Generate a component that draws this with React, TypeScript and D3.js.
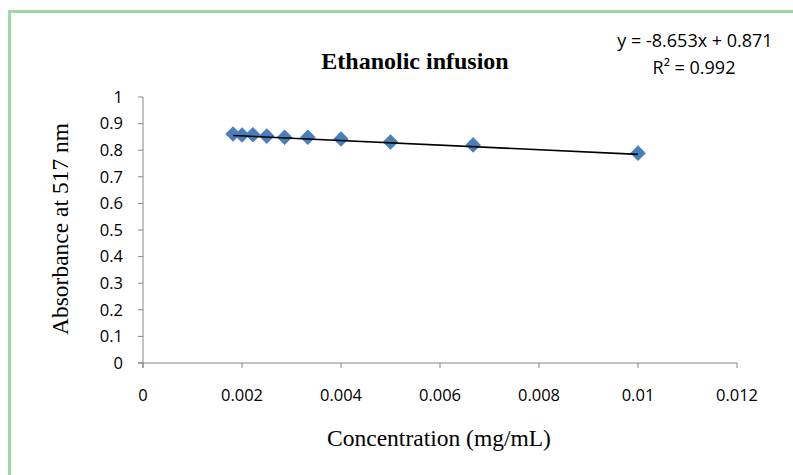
import { scaleLinear, line, symbol, symbolSquare } from 'd3'

// concentration (mg/mL) and absorbance
const conc = [0.00182, 0.002, 0.00222, 0.0025, 0.00286, 0.00333, 0.004, 0.005, 0.00667, 0.01]
const absorbance = [0.861, 0.857, 0.858, 0.853, 0.849, 0.849, 0.842, 0.831, 0.82, 0.789]

const xTicks = [0, 0.002, 0.004, 0.006, 0.008, 0.01, 0.012]
const yTicks = [0, 0.1, 0.2, 0.3, 0.4, 0.5, 0.6, 0.7, 0.8, 0.9, 1]

const slope = -8.653
const intercept = 0.871

const width = 793
const height = 475
const left = 143
const right = 737
const top = 97
const bottom = 363

const x = scaleLinear().domain([0, 0.012]).range([left, right])
const y = scaleLinear().domain([0, 1]).range([bottom, top])

const tickFont = "'Open Sans', 'Liberation Sans', sans-serif"
const serif = "'Liberation Serif', 'Times New Roman', serif"

// excel's diamond marker: a square turned 45 degrees
const diamond = symbol().type(symbolSquare).size(100)

function App() {
  const xMin = Math.min(...conc)
  const xMax = Math.max(...conc)
  const trend = line<number>()
    .x((d) => x(d))
    .y((d) => y(slope * d + intercept))([xMin, xMax])

  return (
    <svg
      width={width}
      height={height}
      style={{ position: 'absolute', left: 0, top: 0, background: '#fff' }}
    >
      <rect x={9.5} y={11.5} width={800} height={500} fill="#fff" stroke="#9ed8a4" strokeWidth={3} />

      <text x={415} y={69} textAnchor="middle" fontFamily={serif} fontWeight="bold" fontSize={24}>
        Ethanolic infusion
      </text>

      <text x={695} y={47} textAnchor="middle" fontFamily={tickFont} fontSize={18}>
        y = -8.653x + 0.871
      </text>
      <text x={694} y={74} textAnchor="middle" fontFamily={tickFont} fontSize={18}>
        R² = 0.992
      </text>

      {/* axes */}
      <line x1={left} x2={left} y1={top} y2={bottom + 5} stroke="#868686" />
      <line x1={left - 5} x2={right} y1={bottom} y2={bottom} stroke="#868686" />
      {yTicks.map((t) => (
        <g key={'y' + t}>
          <line x1={left - 5} x2={left} y1={y(t)} y2={y(t)} stroke="#868686" />
          <text
            x={left - 20}
            y={y(t)}
            dy="0.35em"
            textAnchor="end"
            fontFamily={tickFont}
            fontSize={16.5}
          >
            {t}
          </text>
        </g>
      ))}
      {xTicks.map((t) => (
        <g key={'x' + t}>
          <line x1={x(t)} x2={x(t)} y1={bottom} y2={bottom + 5} stroke="#868686" />
          <text x={x(t)} y={401} textAnchor="middle" fontFamily={tickFont} fontSize={16.5}>
            {t}
          </text>
        </g>
      ))}

      <text x={439} y={446} textAnchor="middle" fontFamily={serif} fontSize={23.5}>
        Concentration (mg/mL)
      </text>
      <text
        transform="translate(68,229) rotate(-90)"
        textAnchor="middle"
        fontFamily={serif}
        fontSize={23.5}
      >
        Absorbance at 517 nm
      </text>

      {conc.map((c, i) => (
        <path
          key={c}
          d={diamond() ?? ''}
          transform={`translate(${x(c)},${y(absorbance[i])}) rotate(45)`}
          fill="#4a7ebb"
          stroke="#4a7ebb"
        />
      ))}
      <path d={trend ?? ''} fill="none" stroke="#000" strokeWidth={1.6} />
    </svg>
  )
}

export default App
